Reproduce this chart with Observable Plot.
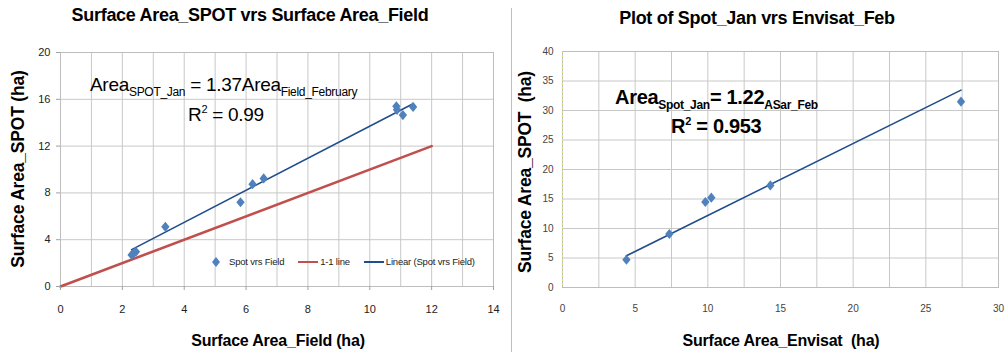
<!DOCTYPE html>
<html><head><meta charset="utf-8">
<script src="https://cdn.jsdelivr.net/npm/d3@7"></script>
<script src="https://cdn.jsdelivr.net/npm/@observablehq/plot@0.6"></script>
<style>
body{margin:0;background:#fff;}
#wrap{position:relative;width:1005px;height:352px;overflow:hidden;font-family:"Liberation Sans",sans-serif;color:#000;}
.abs{position:absolute;white-space:nowrap;line-height:1;}
.title{font-weight:bold;font-size:18px;letter-spacing:-0.3px;transform:translateX(-50%);}
.axt{font-weight:bold;font-size:16px;letter-spacing:-0.2px;transform:translate(-50%,-50%);}
.axty{font-weight:bold;font-size:17.5px;letter-spacing:-0.2px;transform:translate(-50%,-50%) rotate(-90deg);}
.eq{font-size:19px;letter-spacing:-0.3px;}
.eq sub{font-size:12px;vertical-align:-5px;line-height:0;}
.eq sup{font-size:11px;vertical-align:8px;line-height:0;}
.leg{font-size:9.5px;color:#222;display:flex;align-items:center;letter-spacing:-0.2px;}
</style></head><body><div id="wrap"></div>
<script>
// ---- Left chart data ----
const fieldArea = [2.3, 2.36, 2.44, 3.39, 5.82, 6.21, 6.57, 10.86, 10.88, 11.07, 11.4];
const spotArea  = [2.7, 2.82, 2.97, 5.1, 7.2, 8.75, 9.24, 15.4, 15.1, 14.65, 15.35];
const slopeLeft = 1.37;
const oneToOneX = [0, 12];
const xTicksLeft = [0, 2, 4, 6, 8, 10, 12, 14];
const yTicksLeft = [0, 4, 8, 12, 16, 20];
const xGridLeft = [0,1,2,3,4,5,6,7,8,9,10,11,12,13,14];

// ---- Right chart data ----
const envisatArea = [4.4, 7.35, 9.83, 10.24, 14.3, 27.42];
const spotJanArea = [4.7, 9.06, 14.5, 15.23, 17.3, 31.5];
const slopeRight = 1.22;
const xTicksRight = [0, 5, 10, 15, 20, 25, 30];
const yTicksRight = [0, 5, 10, 15, 20, 25, 30, 35, 40];
const xGridRight = [0, 2.5, 5, 7.5, 10, 12.5, 15, 17.5, 20, 22.5, 25, 27.5, 30];

const wrap = document.getElementById("wrap");
const font = '"Liberation Sans",sans-serif';

// Excel-like diamond marker (slightly taller than wide)
const excelDiamond = {
  draw(context, size) {
    const s = Math.sqrt(size);
    const h = s * 0.68, w = s * 0.56;
    context.moveTo(0, -h); context.lineTo(w, 0); context.lineTo(0, h); context.lineTo(-w, 0); context.closePath();
  }
};

const leftPts = fieldArea.map((x, i) => ({x, y: spotArea[i]}));
const leftFit = d3.extent(fieldArea).map(x => ({x, y: slopeLeft * x}));
const oneLine = oneToOneX.map(x => ({x, y: x}));

const left = Plot.plot({
  width: 505, height: 352,
  marginLeft: 60, marginRight: 12, marginTop: 52, marginBottom: 66,
  style: {fontFamily: font, fontSize: "11px", color: "#222", background: "transparent", position: "absolute", left: "0px", top: "0px"},
  x: {domain: [0, 14], label: null},
  y: {domain: [0, 20], label: null},
  marks: [
    Plot.gridX(xGridLeft, {stroke: "#c8c8c8", strokeOpacity: 1}),
    Plot.gridY(yTicksLeft, {stroke: "#c8c8c8", strokeOpacity: 1}),
    Plot.frame({stroke: "#bdbdbd"}),
    Plot.line(oneLine, {x: "x", y: "y", stroke: "#c0504d", strokeWidth: 2.6}),
    Plot.line(leftFit, {x: "x", y: "y", stroke: "#1f4e8c", strokeWidth: 1.6}),
    Plot.dot(leftPts, {x: "x", y: "y", symbol: excelDiamond, r: 4.2, fill: "#4f81bd", stroke: "none"}),
    Plot.axisX({ticks: xTicksLeft, tickSize: 4, tickPadding: 15, stroke: "#a0a0a0", fill: "#222", label: null}),
    Plot.axisY({ticks: yTicksLeft, tickSize: 4, tickPadding: 6, stroke: "#a0a0a0", fill: "#222", label: null})
  ]
});
wrap.appendChild(left);

const rightPts = envisatArea.map((x, i) => ({x, y: spotJanArea[i]}));
const rightFit = d3.extent(envisatArea).map(x => ({x, y: slopeRight * x}));

const right = Plot.plot({
  width: 493, height: 352,
  marginLeft: 50, marginRight: 7, marginTop: 51, marginBottom: 65,
  style: {fontFamily: font, fontSize: "10px", color: "#444", background: "transparent", position: "absolute", left: "512px", top: "0px"},
  x: {domain: [0, 30], label: null},
  y: {domain: [0, 40], label: null},
  marks: [
    Plot.gridX(xGridRight, {stroke: "#c8c8c8", strokeOpacity: 1}),
    Plot.gridY(yTicksRight, {stroke: "#c8c8c8", strokeOpacity: 1}),
    Plot.frame({stroke: "#bdbdbd"}),
    Plot.ruleX([0], {stroke: "#d8d88a", strokeDasharray: "2,2", strokeWidth: 1.2}),
    Plot.line(rightFit, {x: "x", y: "y", stroke: "#1f4e8c", strokeWidth: 1.6}),
    Plot.dot(rightPts, {x: "x", y: "y", symbol: excelDiamond, r: 4.2, fill: "#4f81bd", stroke: "none"}),
    Plot.axisX({ticks: xTicksRight, tickSize: 0, tickPadding: 17, fill: "#444", label: null}),
    Plot.axisY({ticks: yTicksRight, tickSize: 0, tickPadding: 9, fill: "#444", label: null})
  ]
});
wrap.appendChild(right);

function add(html, cls, css) {
  const d = document.createElement("div");
  d.className = "abs " + cls;
  d.innerHTML = html;
  Object.assign(d.style, css);
  wrap.appendChild(d);
  return d;
}
// separator
add("", "", {left: "511px", top: "8px", width: "1px", height: "344px", background: "#bfbfbf"});

// Left texts
add("Surface Area_SPOT vrs Surface Area_Field", "title", {left: "250px", top: "6px"});
add("Surface Area_SPOT (ha)", "axty", {left: "19px", top: "169px"});
add("Surface Area_Field (ha)", "axt", {left: "278px", top: "341px"});
add("Area<sub>SPOT_Jan</sub> = 1.37Area<sub>Field_February</sub>", "eq", {left: "90px", top: "75px"});
add("R<sup>2</sup> = 0.99", "eq", {left: "188px", top: "105px"});
add('<svg width="10" height="12" style="margin-right:8px"><path d="M5,1L9,6L5,11L1,6Z" fill="#4f81bd"/></svg><span style="margin-right:14px">Spot vrs Field</span>' +
    '<svg width="20" height="4" style="margin-right:2px"><line x1="0" y1="2" x2="20" y2="2" stroke="#c0504d" stroke-width="2"/></svg><span style="margin-right:14px">1-1 line</span>' +
    '<svg width="20" height="4" style="margin-right:2px"><line x1="0" y1="2" x2="20" y2="2" stroke="#1f4e8c" stroke-width="2"/></svg><span>Linear (Spot vrs Field)</span>',
    "leg", {left: "211px", top: "256px"});

// Right texts
add("Plot of Spot_Jan vrs Envisat_Feb", "title", {left: "757px", top: "9px"});
add("Surface Area_SPOT&nbsp; (ha)", "axty", {left: "526px", top: "172px"});
add("Surface Area_Envisat&nbsp; (ha)", "axt", {left: "781px", top: "341px"});
add("Area<sub>Spot_Jan</sub>= 1.22<sub>ASar_Feb</sub>", "eq", {left: "615px", top: "87px", fontWeight: "bold", fontSize: "20px"});
add("R<sup>2</sup> = 0.953", "eq", {left: "671px", top: "116px", fontWeight: "bold", fontSize: "20px"});
</script>
</body></html>
